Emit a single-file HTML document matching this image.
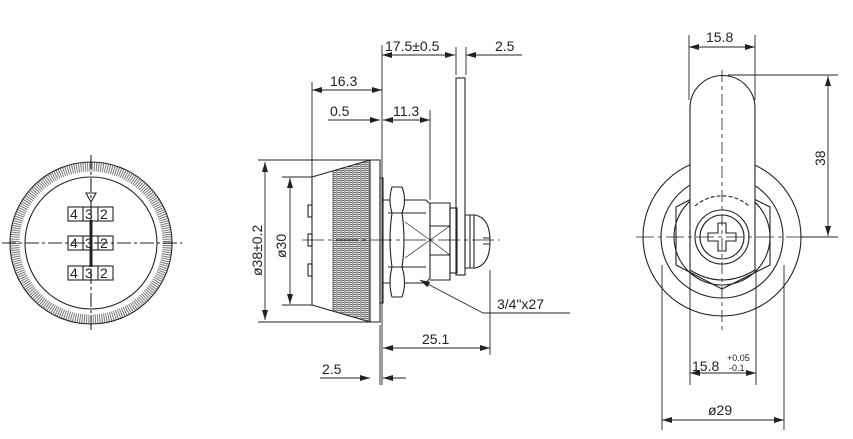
<!DOCTYPE html>
<html><head><meta charset="utf-8"><style>
html,body{margin:0;padding:0;background:#fff}
svg{display:block}
text{font-family:"Liberation Sans",sans-serif;font-size:14px;fill:#222}
</style></head><body>
<svg width="853" height="439" viewBox="0 0 853 439" xmlns="http://www.w3.org/2000/svg">
<defs>
<marker id="a" viewBox="0 0 10 6" refX="10" refY="3" markerWidth="10" markerHeight="6" orient="auto-start-reverse" markerUnits="userSpaceOnUse"><path d="M0,0 L10,3 L0,6z" fill="#222"/></marker>
<pattern id="kn" width="4" height="2" patternUnits="userSpaceOnUse"><line x1="0" y1="1" x2="4" y2="0.6" stroke="#444" stroke-width="0.9"/></pattern>
</defs>
<g fill="none" stroke="#222" stroke-width="1.1">
<!-- LEFT VIEW -->
<circle cx="91" cy="243" r="81"/>
<circle cx="91" cy="243" r="76" stroke="#777" stroke-width="9" stroke-dasharray="1 1.2"/>
<circle cx="91" cy="243" r="66"/>
<line x1="2" y1="243" x2="182" y2="243" stroke-dasharray="14 3 3 3"/>
<line x1="91" y1="155" x2="91" y2="332" stroke-dasharray="14 3 3 3"/>
<path d="M86,193 L96,193 L91,202z"/>
<line x1="91" y1="220" x2="91" y2="267" stroke-width="3"/>
<rect x="68" y="207" width="45" height="14"/>
<rect x="68" y="236" width="45" height="14"/>
<rect x="68" y="266" width="45" height="14"/>
<path d="M83,207v14M98,207v14M83,236v14M98,236v14M83,266v14M98,266v14"/>
</g>
<g style="font-size:13px">
<text x="70" y="219">4</text><text x="85" y="219">3</text><text x="100" y="219">2</text>
<text x="70" y="248">4</text><text x="85" y="248">3</text><text x="100" y="248">2</text>
<text x="70" y="278">4</text><text x="85" y="278">3</text><text x="100" y="278">2</text>
</g>

<!-- MIDDLE VIEW -->
<g fill="none" stroke="#222" stroke-width="1.1">
<path d="M333,171 L370,160 L370,322 L333,311z" fill="url(#kn)" stroke="none"/>
<path d="M312,177 L370,160 L380,160 L380,322 L370,322 L312,305z"/>
<line x1="370" y1="160" x2="370" y2="322"/>
<line x1="333" y1="171" x2="333" y2="311" stroke-width="0.6"/>
<rect x="308" y="205" width="4" height="12"/><rect x="308" y="234" width="4" height="12"/><rect x="308" y="264" width="4" height="12"/>
<rect x="380" y="178" width="3" height="125"/>
<path d="M383,200 L426,200 L430,204 L430,278 L426,283 L383,283"/>
<path d="M405,213 L426,213 M405,267 L426,267"/>
<path d="M430,203 L450,203 L450,280 L430,280 M430,226 L450,226 M430,255 L450,255"/>
<rect x="450" y="208" width="7" height="65"/>
<rect x="456" y="78" width="9" height="197"/>
<path d="M465,215 L475,215 Q490,218 490,241 Q490,265 475,268 L465,268z"/>
<path d="M470,215v53M474,215v53"/>
<path d="M483,238h7M483,244h7"/>
<path d="M392,187 Q388,200 392,213 Q388,240 392,267 Q388,283 392,297 L402,297 Q407,283 402,267 Q406,240 402,213 Q407,200 402,187z" fill="#fff"/>
<path d="M388,213h18M388,267h18"/>
<path d="M405,222 L430,240 L450,226 M405,258 L430,240 L450,255" stroke-width="0.7"/>
<line x1="302" y1="240" x2="500" y2="240" stroke-width="0.8" stroke-dasharray="22 4 4 4"/>
<g stroke-width="0.9">
<line x1="312" y1="82" x2="312" y2="177"/>
<line x1="382" y1="45" x2="382" y2="385"/>
<line x1="380" y1="325" x2="380" y2="385"/>
<line x1="456" y1="47" x2="456" y2="75"/><line x1="466" y1="47" x2="466" y2="75"/>
<line x1="430" y1="110" x2="430" y2="200"/>
<line x1="490" y1="270" x2="490" y2="355"/>
<line x1="382" y1="55" x2="455" y2="55" marker-start="url(#a)" marker-end="url(#a)"/>
<line x1="522" y1="55" x2="466" y2="55" marker-end="url(#a)"/>
<line x1="312" y1="90" x2="382" y2="90" marker-start="url(#a)" marker-end="url(#a)"/>
<line x1="328" y1="120" x2="380" y2="120" marker-end="url(#a)"/>
<line x1="383" y1="120" x2="430" y2="120" marker-start="url(#a)" marker-end="url(#a)"/>
<line x1="258" y1="160" x2="372" y2="160"/><line x1="258" y1="322" x2="372" y2="322"/>
<line x1="265" y1="162" x2="265" y2="320" marker-start="url(#a)" marker-end="url(#a)"/>
<line x1="282" y1="177" x2="312" y2="177"/><line x1="282" y1="305" x2="312" y2="305"/>
<line x1="290" y1="178" x2="290" y2="304" marker-start="url(#a)" marker-end="url(#a)"/>
<line x1="483" y1="313" x2="420" y2="280" marker-end="url(#a)"/>
<line x1="483" y1="313" x2="570" y2="313"/>
<line x1="383" y1="348" x2="490" y2="348" marker-start="url(#a)" marker-end="url(#a)"/>
<line x1="320" y1="378" x2="370" y2="378" marker-end="url(#a)"/>
<line x1="406" y1="378" x2="383" y2="378" marker-end="url(#a)"/>
</g>
</g>
<text x="385" y="51">17.5±0.5</text>
<text x="495" y="51">2.5</text>
<text x="330" y="86">16.3</text>
<text x="330" y="116">0.5</text>
<text x="393" y="116">11.3</text>
<text x="497" y="309">3/4"x27</text>
<text x="422" y="344">25.1</text>
<text x="322" y="374">2.5</text>
<text transform="translate(262,276) rotate(-90)">ø38±0.2</text>
<text transform="translate(286,258) rotate(-90)">ø30</text>

<!-- RIGHT VIEW -->
<g fill="none" stroke="#222" stroke-width="1.1">
<circle cx="722" cy="237" r="79"/>
<circle cx="722" cy="237" r="61"/>
<path d="M722,183 L770,207 L770,265 L722,289 L676,265 L676,207z"/>
<circle cx="722" cy="237" r="48"/>
<path d="M690,270 L690,108 A32.5,32.5 0 0 1 755,108 L755,270 Q722,290 690,270z" fill="#fff"/>
<path d="M695,206 A41,41 0 0 1 749,206" stroke-dasharray="4 2"/>
<circle cx="722" cy="237" r="27"/>
<circle cx="722" cy="237" r="22"/>
<path d="M718,223 h8 v10 h10 v8 h-10 v10 h-8 v-10 h-10 v-8 h10z"/>
<line x1="636" y1="237" x2="812" y2="237" stroke-width="0.8" stroke-dasharray="18 4 4 4"/>
<line x1="722" y1="70" x2="722" y2="330" stroke-width="0.8" stroke-dasharray="12 4 4 4"/>
<g stroke-width="0.9">
<line x1="689" y1="35" x2="689" y2="100"/><line x1="755" y1="35" x2="755" y2="100"/>
<line x1="689" y1="47" x2="755" y2="47" marker-start="url(#a)" marker-end="url(#a)"/>
<line x1="728" y1="75" x2="838" y2="75"/><line x1="800" y1="237" x2="838" y2="237"/>
<line x1="828" y1="76" x2="828" y2="236" marker-start="url(#a)" marker-end="url(#a)"/>
<line x1="690" y1="270" x2="690" y2="385"/><line x1="756" y1="270" x2="756" y2="385"/>
<line x1="690" y1="373" x2="756" y2="373" marker-start="url(#a)" marker-end="url(#a)"/>
<line x1="662" y1="265" x2="662" y2="430"/><line x1="784" y1="265" x2="784" y2="430"/>
<line x1="662" y1="420" x2="784" y2="420" marker-start="url(#a)" marker-end="url(#a)"/>
</g>
</g>
<text x="706" y="42">15.8</text>
<text transform="translate(825,166) rotate(-90)">38</text>
<text x="692" y="371">15.8</text>
<text x="727" y="361" style="font-size:9px">+0.05</text>
<text x="729" y="371" style="font-size:9px">-0.1</text>
<text x="708" y="415">ø29</text>
</svg>
</body></html>
